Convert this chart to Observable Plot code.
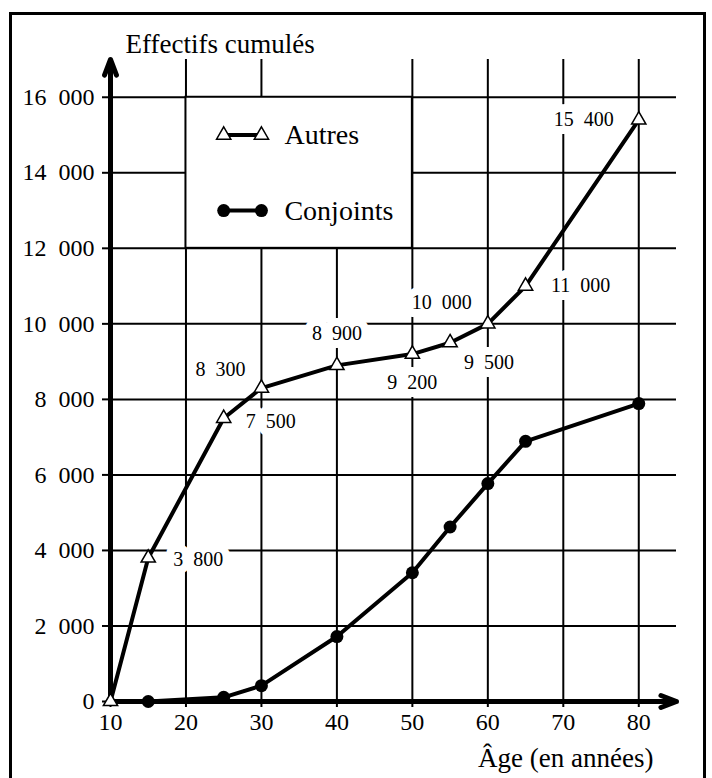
<!DOCTYPE html>
<html><head><meta charset="utf-8">
<script src="https://cdn.jsdelivr.net/npm/d3@7"></script>
<script src="https://cdn.jsdelivr.net/npm/@observablehq/plot@0.6"></script>
<style>
html,body{margin:0;padding:0;background:#fff;}
#wrap{position:relative;width:712px;height:778px;overflow:hidden;background:#fff;}
#frame{position:absolute;left:9px;top:12px;width:697px;height:800px;border:3px solid #000;box-sizing:border-box;z-index:2;pointer-events:none;}
#chart{position:absolute;left:0;top:0;z-index:1;}
#chart svg, #chart svg text, #chart svg g {font-family: "Liberation Serif", serif !important;}
</style></head><body>
<div id="wrap"><div id="chart"></div><div id="frame"></div></div>
<script>
// ---- data ----
const agesAutres = [10, 15, 25, 30, 40, 50, 55, 60, 65, 80];
const valuesAutres = [0, 3800, 7500, 8300, 8900, 9200, 9500, 10000, 11000, 15400];
const agesConjoints = [15, 25, 30, 40, 50, 55, 60, 65, 80];
const valuesConjoints = [0, 110, 420, 1720, 3410, 4620, 5770, 6890, 7890];
const xTicks = [10, 20, 30, 40, 50, 60, 70, 80];
const yTicks = [0, 2000, 4000, 6000, 8000, 10000, 12000, 14000, 16000];
const seriesNames = ["Autres", "Conjoints"];
const yTitle = "Effectifs cumulés";
const xTitle = "Âge (en années)";

// ---- layout (not data) ----
const labelOffsets = {15:[50,2], 25:[47,3], 30:[-41,-18], 40:[0,-32], 50:[0,29], 55:[39,20], 60:[-46,-21], 65:[55,0], 80:[-55,0]};

const fmt = d => d < 1000 ? String(d) : Math.floor(d / 1000) + "\u2002" + String(d % 1000).padStart(3, "0");
const A = agesAutres.map((a, i) => ({age: a, n: valuesAutres[i]}));
const C = agesConjoints.map((a, i) => ({age: a, n: valuesConjoints[i]}));
const labelled = A.filter(d => d.age in labelOffsets);

const labelMarks = halo => labelled.map(d => Plot.text([d], {
  x: "age", y: "n", text: d => fmt(d.n),
  dx: labelOffsets[d.age][0], dy: labelOffsets[d.age][1],
  fontSize: 20, fill: halo ? "white" : "black",
  ...(halo ? {stroke: "white", strokeWidth: 16, strokeLinejoin: "round"} : {})
}));

const legendA = [{x: 25, y: 15000}, {x: 30, y: 15000}];
const legendC = [{x: 25, y: 13000}, {x: 30, y: 13000}];

const chart = Plot.plot({
  width: 712, height: 778,
  marginLeft: 110, marginRight: 36, marginTop: 59, marginBottom: 77,
  x: {domain: [10, 85]},
  y: {domain: [0, 17000]},
  style: {background: "transparent", color: "black", overflow: "visible"},
  marks: [
    Plot.ruleY(yTicks.filter(d => d > 0), {y: d => d, stroke: "black", strokeWidth: 2}),
    Plot.ruleX(xTicks.filter(d => d > 10), {x: d => d, y1: () => 0, y2: d => d === 40 ? 16000 : 17000, stroke: "black", strokeWidth: 2}),
    Plot.axisX({ticks: xTicks, tickSize: 6, tickPadding: 5, fontSize: 24, strokeWidth: 2, tickFormat: d => String(d), label: null}),
    Plot.axisY({ticks: yTicks, tickSize: 8, tickPadding: 8, fontSize: 24, strokeWidth: 2, tickFormat: fmt, label: null}),
    Plot.rect([0], {x1: () => 20, x2: () => 50, y1: () => 12000, y2: () => 16000, fill: "white", stroke: "black", strokeWidth: 2}),
    ...labelMarks(true),
    Plot.arrow([0], {x1: () => 10, y1: () => 0, x2: () => 85, y2: () => 0, stroke: "black", strokeWidth: 5, headLength: 5, headAngle: 42}),
    Plot.arrow([0], {x1: () => 10, y1: () => 0, x2: () => 10, y2: () => 17000, stroke: "black", strokeWidth: 5, headLength: 5, headAngle: 42}),
    Plot.line(A, {x: "age", y: "n", stroke: "black", strokeWidth: 4, strokeLinejoin: "round"}),
    Plot.line(C, {x: "age", y: "n", stroke: "black", strokeWidth: 4, strokeLinejoin: "round"}),
    Plot.dot(C, {x: "age", y: "n", r: 6.5, fill: "black", stroke: "none"}),
    Plot.dot(A, {x: "age", y: "n", symbol: "triangle", r: 5.3, fill: "white", stroke: "black", strokeWidth: 1.5}),
    // legend
    Plot.line(legendA, {x: "x", y: "y", stroke: "black", strokeWidth: 4}),
    Plot.dot(legendA, {x: "x", y: "y", symbol: "triangle", r: 5.3, fill: "white", stroke: "black", strokeWidth: 1.5}),
    Plot.text([seriesNames[0]], {x: () => 30, y: () => 15000, text: d => d, dx: 23, textAnchor: "start", fontSize: 28}),
    Plot.line(legendC, {x: "x", y: "y", stroke: "black", strokeWidth: 4}),
    Plot.dot(legendC, {x: "x", y: "y", r: 6.5, fill: "black"}),
    Plot.text([seriesNames[1]], {x: () => 30, y: () => 13000, text: d => d, dx: 23, textAnchor: "start", fontSize: 28}),
    ...labelMarks(false),
    Plot.text([yTitle], {frameAnchor: "top-left", text: d => d, dx: 15, dy: -15, textAnchor: "start", lineAnchor: "middle", fontSize: 27}),
    Plot.text([xTitle], {frameAnchor: "bottom-right", text: d => d, dx: -23, dy: 57, textAnchor: "end", lineAnchor: "middle", fontSize: 27})
  ]
});
document.getElementById("chart").appendChild(chart);
</script>
</body></html>
